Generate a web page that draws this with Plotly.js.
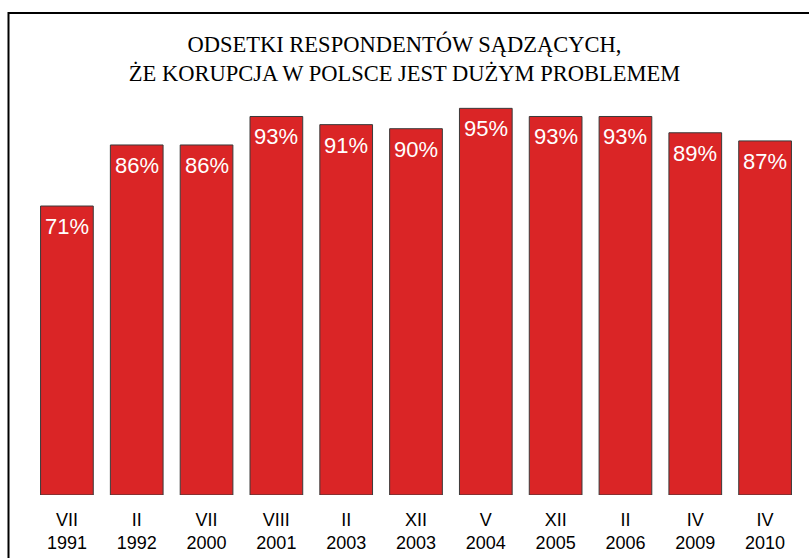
<!DOCTYPE html>
<html>
<head>
<meta charset="utf-8">
<script src="https://cdn.plot.ly/plotly-3.0.1.min.js"></script>
<style>
html,body{margin:0;padding:0;background:#fff;}
#chart{width:809px;height:558px;}
</style>
</head>
<body>
<div id="chart"></div>
<script>
const months = ["VII","II","VII","VIII","II","XII","V","XII","II","IV","IV"];
const years = ["1991","1992","2000","2001","2003","2003","2004","2005","2006","2009","2010"];
const values = [71,86,86,93,91,90,95,93,93,89,87];
const titleText = "ODSETKI RESPONDENTÓW SĄDZĄCYCH,<br>ŻE KORUPCJA W POLSCE JEST DUŻYM PROBLEMEM";

const categories = months.map((m,i)=> m + "<br>" + years[i]);

const trace = {
  type: "bar",
  x: categories,
  y: values,
  marker: {color: "#da2526", line: {color: "#3a3a3a", width: 1}},
  hoverinfo: "none"
};

const annotations = values.map((v,i)=>({
  x: categories[i], y: v, xref: "x", yref: "y",
  text: v + "%",
  showarrow: false,
  xanchor: "center", yanchor: "top",
  yshift: -6,
  font: {family: "Liberation Sans, Arial, sans-serif", size: 22, color: "#ffffff"}
}));

const layout = {
  width: 809, height: 558,
  margin: {l: 32, r: 9, t: 88, b: 63},
  paper_bgcolor: "#ffffff",
  plot_bgcolor: "#ffffff",
  showlegend: false,
  bargap: 0.245,
  title: {
    text: titleText,
    font: {family: "Liberation Serif, Times New Roman, serif", size: 22.5, color: "#000000"},
    x: 0.5, xanchor: "center",
    y: 1 - 52/558, yanchor: "middle", yref: "container"
  },
  xaxis: {
    type: "category",
    showgrid: false, zeroline: false, showline: false, ticks: "",
    tickfont: {family: "Liberation Sans, Arial, sans-serif", size: 18, color: "#000000"},
    ticklabelstandoff: 12,
    fixedrange: true
  },
  yaxis: {
    range: [0, 100],
    visible: false,
    showgrid: false, zeroline: false,
    fixedrange: true
  },
  annotations: annotations,
  shapes: [{
    type: "rect", xref: "paper", yref: "paper",
    x0: (8.5-32)/768, x1: 1.1,
    y0: -0.3, y1: (495-13)/407,
    line: {color: "#000000", width: 2},
    fillcolor: "rgba(0,0,0,0)",
    layer: "above"
  }]
};

Plotly.newPlot("chart", [trace], layout, {displayModeBar: false, staticPlot: true});
</script>
</body>
</html>
